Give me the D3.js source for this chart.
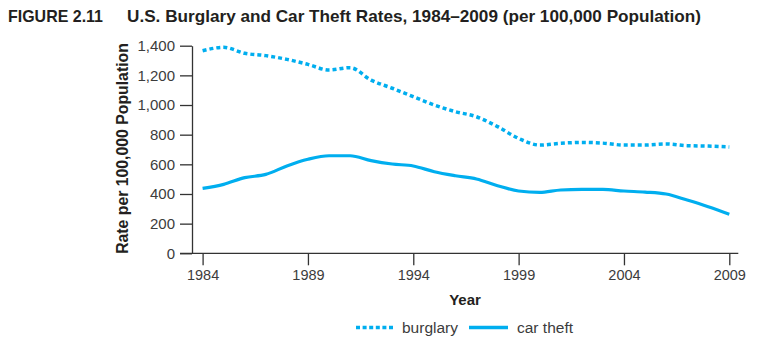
<!DOCTYPE html>
<html>
<head>
<meta charset="utf-8">
<script src="https://cdn.jsdelivr.net/npm/d3@7"></script>
<style>
  body { margin: 0; background: #fff; }
  text { font-family: "Liberation Sans", Arial, sans-serif; }
</style>
</head>
<body>
<div id="main"></div>
<script>
// rates per 100,000 population
const years = d3.range(1984, 2010);
const burglary = [1366, 1389, 1349, 1333, 1308, 1274, 1236, 1252, 1168, 1113, 1056,
  1000, 955, 921, 854, 775, 730, 742, 748, 743, 730, 730, 737, 726, 723, 717];
const carTheft = [438, 465, 510, 532, 589, 634, 658, 658, 625, 602, 589,
  550, 523, 501, 456, 420, 411, 427, 431, 431, 420, 413, 400, 359, 314, 263];
const yTicks = [0, 200, 400, 600, 800, 1000, 1200, 1400];
const xTicks = [1984, 1989, 1994, 1999, 2004, 2009];

const width = 768, height = 340;
const blue = '#00aeef';
const ink = '#231f20';
const grey = '#3c3c3c';

const svg = d3.select('#main').append('svg')
  .attr('width', width)
  .attr('height', height);

// title
const title = svg.append('g').attr('font-weight', 'bold').attr('fill', ink)
  .style('font-family', '"Liberation Sans Narrow", "Arial Narrow", sans-serif')
  .attr('font-size', 17);
title.append('text').attr('x', 8).attr('y', 22)
  .attr('textLength', 95).attr('lengthAdjust', 'spacingAndGlyphs')
  .text('FIGURE 2.11');
title.append('text').attr('x', 127).attr('y', 22)
  .attr('textLength', 574).attr('lengthAdjust', 'spacingAndGlyphs')
  .text('U.S. Burglary and Car Theft Rates, 1984\u20132009 (per 100,000 Population)');

// scales
const xScale = d3.scaleLinear().domain([1984, 2009]).range([202.6, 729.3]);
const yScale = d3.scaleLinear().domain([0, 1400]).range([253.3, 45.7]);
const left = 192;

// y axis
const yAxis = svg.append('g')
  .attr('transform', 'translate(' + left + ',0)')
  .call(d3.axisLeft(yScale).tickValues(yTicks).tickFormat(d3.format(','))
    .tickSize(12).tickSizeOuter(0).tickPadding(5));
yAxis.selectAll('text').attr('font-size', 15).attr('fill', grey)
  .style('font-family', '"Liberation Sans", Arial, sans-serif');
yAxis.selectAll('line, path').attr('stroke', '#333').attr('stroke-width', 1.3);

// x axis
const xAxis = svg.append('g')
  .attr('transform', 'translate(0,' + yScale(0) + ')')
  .call(d3.axisBottom(xScale).tickValues(xTicks).tickFormat(d3.format('d'))
    .tickSize(12).tickSizeOuter(0).tickPadding(4));
xAxis.select('.domain').remove();
xAxis.append('line')
  .attr('x1', left - 12).attr('x2', xScale(2009) + 9)
  .attr('stroke', '#333').attr('stroke-width', 1.3);
xAxis.selectAll('text').attr('font-size', 14.5).attr('fill', grey)
  .style('font-family', '"Liberation Sans", Arial, sans-serif');
xAxis.selectAll('.tick line').attr('stroke', '#333').attr('stroke-width', 1.3);

// axis titles
svg.append('text')
  .attr('transform', 'translate(128,148.5) rotate(-90)')
  .attr('text-anchor', 'middle')
  .attr('font-weight', 'bold').attr('font-size', 15.8).attr('fill', ink)
  .text('Rate per 100,000 Population');
svg.append('text')
  .attr('x', 465).attr('y', 304.5)
  .attr('text-anchor', 'middle')
  .attr('font-weight', 'bold').attr('font-size', 15).attr('fill', ink)
  .text('Year');

// lines
const line = d3.line()
  .x((d, i) => xScale(years[i]))
  .y(d => yScale(d))
  .curve(d3.curveMonotoneX);

svg.append('path').datum(burglary)
  .attr('d', line)
  .attr('fill', 'none')
  .attr('stroke', blue)
  .attr('stroke-width', 3.5)
  .attr('stroke-dasharray', '4,3');

svg.append('path').datum(carTheft)
  .attr('d', line)
  .attr('fill', 'none')
  .attr('stroke', blue)
  .attr('stroke-width', 3.2);

// legend
const legend = svg.append('g').attr('transform', 'translate(0,327.5)');
legend.append('line').attr('x1', 356).attr('x2', 394)
  .attr('stroke', blue).attr('stroke-width', 3.5).attr('stroke-dasharray', '4,2.6');
legend.append('text').attr('x', 402).attr('y', 5.5)
  .attr('font-size', 15.5).attr('fill', grey).text('burglary');
legend.append('line').attr('x1', 469).attr('x2', 508)
  .attr('stroke', blue).attr('stroke-width', 3.5);
legend.append('text').attr('x', 517).attr('y', 5.5)
  .attr('font-size', 15.5).attr('fill', grey).text('car theft');
</script>
</body>
</html>
